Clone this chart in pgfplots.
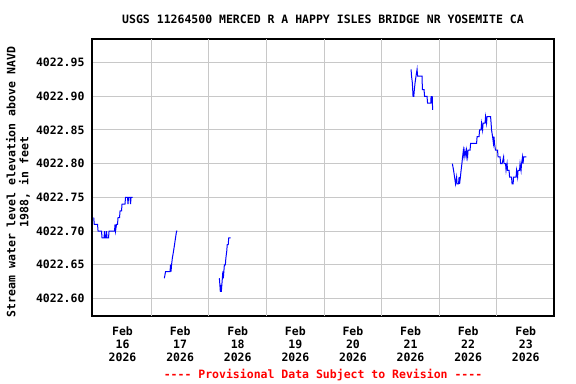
\documentclass[border=0pt]{standalone}
\usepackage{fontspec}
\setmonofont{DejaVu Sans Mono}
\usepackage{pgfplots}
\pgfplotsset{compat=1.18}
\definecolor{gridgray}{RGB}{200,200,200}
% strip the constant offset 4022 as text, so that TeX's limited precision keeps the 0.01 ft steps
\makeatletter
\def\stripy#1{\edef\stripytmp{#1}\expandafter\stripyB\stripytmp\relax}
\def\stripyB#1\relax{\in@{Y}{#1}\ifin@\def\stripynext{\stripyF#1\relax}\else\def\stripynext{\stripyA#1\relax}\fi\stripynext}
\def\stripyF#1Y4.022#2e3]#3\relax{\def\pgfmathresult{0.#20}}
\def\stripyA4022.#1\relax{\def\pgfmathresult{0.#10}}
\makeatother
\begin{document}
\begin{tikzpicture}[font=\ttfamily\bfseries\fontsize{11.5bp}{13bp}\selectfont]
\useasboundingbox (0bp,0bp) rectangle (576bp,384bp);
\begin{axis}[
  at={(92bp,68bp)}, anchor=south west,
  scale only axis, width=462bp, height=277bp,
  xmin=-0.03, xmax=7.99,
  y coord trafo/.code={\stripy{#1}},
  ymin=4022.574, ymax=4022.985,
  ytick={4022.60,4022.65,4022.70,4022.75,4022.80,4022.85,4022.90,4022.95},
  yticklabels={4022.60,4022.65,4022.70,4022.75,4022.80,4022.85,4022.90,4022.95},
  xtick={0.5,1.5,2.5,3.5,4.5,5.5,6.5,7.5},
  xticklabels={{Feb\\16\\2026},{Feb\\17\\2026},{Feb\\18\\2026},{Feb\\19\\2026},{Feb\\20\\2026},{Feb\\21\\2026},{Feb\\22\\2026},{Feb\\23\\2026}},
  xticklabel style={align=center, font=\ttfamily\bfseries\fontsize{11.5bp}{13bp}\selectfont, yshift=-7bp},
  yticklabel style={font=\ttfamily\bfseries\fontsize{11.5bp}{13bp}\selectfont, xshift=-4bp},
  extra x ticks={1,2,3,4,5,6,7},
  extra x tick labels={},
  extra x tick style={xmajorgrids=true},
  xmajorgrids=false, ymajorgrids=true,
  major grid style={gridgray, line width=1bp},
  major tick length=0pt,
  axis line style={black, line width=1.5bp},
  clip=true,
]
\addplot[blue, line width=1bp] coordinates {
(0.000,4022.72) (0.009,4022.71) (0.066,4022.71) (0.075,4022.70) (0.135,4022.70)
(0.144,4022.69) (0.179,4022.69) (0.188,4022.70) (0.196,4022.69) (0.214,4022.69)
(0.222,4022.70) (0.231,4022.69) (0.257,4022.69) (0.266,4022.70) (0.361,4022.70)
(0.370,4022.71) (0.378,4022.70) (0.396,4022.71) (0.413,4022.71) (0.422,4022.72)
(0.448,4022.72) (0.457,4022.73) (0.483,4022.73) (0.491,4022.74) (0.543,4022.74)
(0.552,4022.75) (0.587,4022.75) (0.595,4022.74) (0.604,4022.75) (0.630,4022.75)
(0.639,4022.74) (0.648,4022.75) (0.674,4022.75)
};
\addplot[blue, line width=1bp] coordinates {
(1.226,4022.63) (1.247,4022.64) (1.325,4022.64) (1.333,4022.65) (1.342,4022.64)
(1.351,4022.65) (1.365,4022.66) (1.385,4022.67) (1.403,4022.68) (1.420,4022.69)
(1.438,4022.70) (1.451,4022.70)
};
\addplot[blue, line width=1bp] coordinates {
(2.181,4022.63) (2.190,4022.62) (2.198,4022.61) (2.207,4022.62) (2.215,4022.61)
(2.224,4022.62) (2.233,4022.63) (2.242,4022.64) (2.250,4022.63) (2.259,4022.64)
(2.268,4022.65) (2.285,4022.65) (2.294,4022.66) (2.309,4022.67) (2.318,4022.68)
(2.335,4022.68) (2.344,4022.69) (2.378,4022.69)
};
\addplot[blue, line width=1bp] coordinates {
(5.509,4022.94) (5.517,4022.93) (5.531,4022.92) (5.543,4022.90) (5.556,4022.90)
(5.566,4022.91) (5.578,4022.92) (5.595,4022.93) (5.613,4022.94) (5.622,4022.93)
(5.700,4022.93) (5.705,4022.91) (5.734,4022.91) (5.743,4022.90) (5.786,4022.90)
(5.795,4022.89) (5.851,4022.89) (5.856,4022.90) (5.868,4022.89) (5.878,4022.90)
(5.882,4022.88)
};
\addplot[blue, line width=1bp] coordinates {
(6.226,4022.80) (6.247,4022.79) (6.264,4022.78) (6.281,4022.77) (6.299,4022.78)
(6.307,4022.77) (6.333,4022.77) (6.342,4022.78) (6.351,4022.77) (6.365,4022.78)
(6.377,4022.79) (6.391,4022.80) (6.403,4022.81) (6.417,4022.82) (6.429,4022.81)
(6.443,4022.82) (6.464,4022.81) (6.472,4022.82) (6.490,4022.81) (6.498,4022.82)
(6.533,4022.82) (6.542,4022.83) (6.585,4022.83) (6.646,4022.83) (6.655,4022.84)
(6.689,4022.84) (6.698,4022.85) (6.724,4022.85) (6.733,4022.86) (6.750,4022.85)
(6.759,4022.86) (6.793,4022.86) (6.802,4022.87) (6.819,4022.86) (6.828,4022.87)
(6.889,4022.87) (6.898,4022.86) (6.906,4022.85) (6.924,4022.84) (6.939,4022.83)
(6.948,4022.84) (6.957,4022.83) (6.974,4022.82) (7.010,4022.82) (7.019,4022.81)
(7.054,4022.81) (7.063,4022.80) (7.089,4022.80) (7.115,4022.81) (7.123,4022.80)
(7.149,4022.80) (7.158,4022.79) (7.175,4022.80) (7.184,4022.79) (7.210,4022.79)
(7.219,4022.78) (7.253,4022.78) (7.262,4022.77) (7.280,4022.77) (7.288,4022.78)
(7.332,4022.78) (7.340,4022.79) (7.358,4022.78) (7.366,4022.79) (7.392,4022.79)
(7.401,4022.80) (7.418,4022.79) (7.427,4022.80) (7.444,4022.81) (7.453,4022.80)
(7.462,4022.81) (7.510,4022.81)
};
\end{axis}
\node at (323bp,365bp) {USGS 11264500 MERCED R A HAPPY ISLES BRIDGE NR YOSEMITE CA};
\node[rotate=90, align=center] at (18bp,202bp) {Stream water level elevation above NAVD\\1988, in feet};
\node[text=red] at (323bp,9bp) {---- Provisional Data Subject to Revision ----};
\end{tikzpicture}
\end{document}
